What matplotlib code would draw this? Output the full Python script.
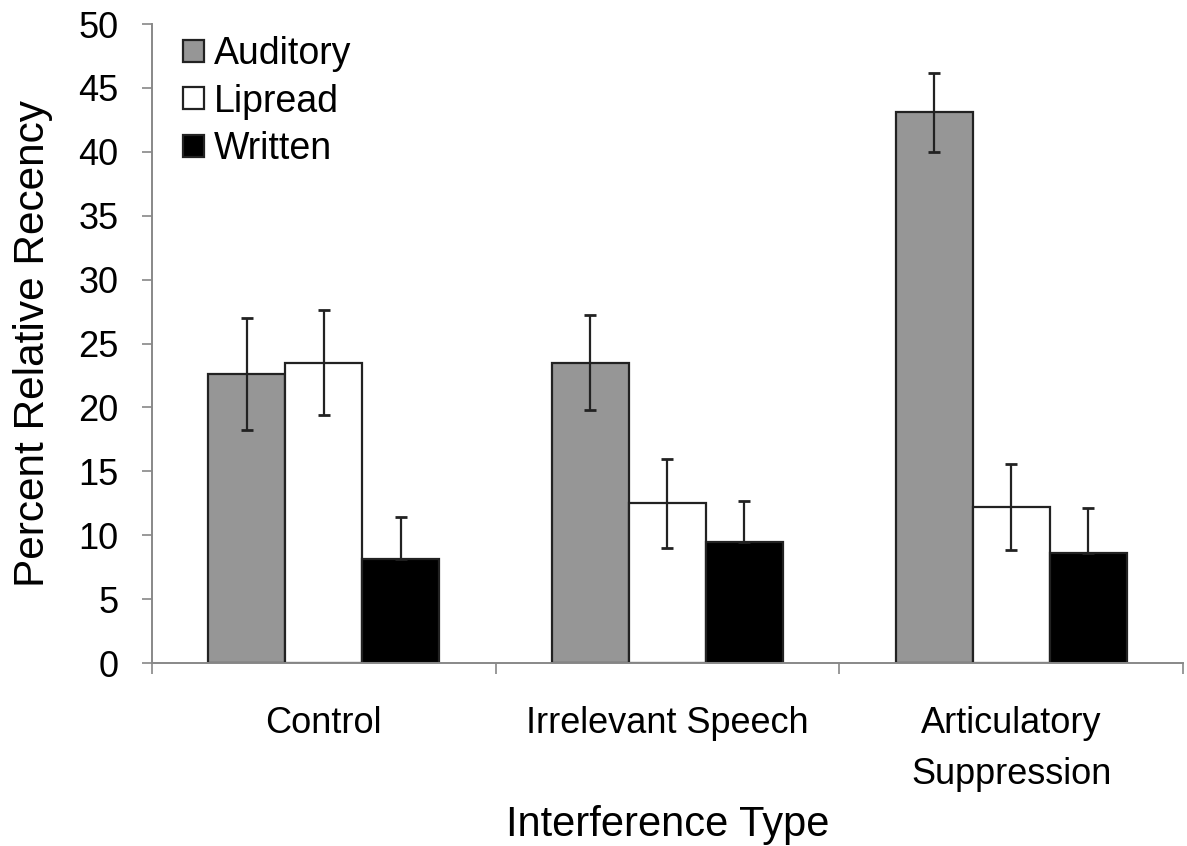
import numpy as np
import matplotlib.pyplot as plt

plt.rcParams['font.family'] = ['Liberation Sans', 'DejaVu Sans']

# recency data per interference condition
conditions = ['Control', 'Irrelevant Speech', 'Articulatory\nSuppression']
series = ['Auditory', 'Lipread', 'Written']
auditory = [22.6, 23.5, 43.1]
lipread = [23.5, 12.5, 12.2]
written = [8.1, 9.5, 8.6]
auditory_err = [4.4, 3.7, 3.1]
lipread_err = [4.1, 3.5, 3.35]
written_err = [3.3, 3.2, 3.5]

means = [auditory, lipread, written]
errs = [auditory_err, lipread_err, written_err]
fills = ['#969696', 'white', 'black']

fig = plt.figure(figsize=(11.87, 8.46), dpi=100)
ax = fig.add_axes([0.128, 0.2163, 0.8686, 0.7553])

x = np.arange(len(conditions))
w = 0.224
for i, (m, e, c) in enumerate(zip(means, errs, fills)):
    pos = x + (i - 1) * w
    ax.bar(pos, m, width=w, color=c, edgecolor='#222222', linewidth=1.6,
           label=series[i], zorder=2)
    if i == 2:
        # written bars are black: only the upper half of the bar is visible
        ax.errorbar(pos, m, yerr=[np.zeros(3), e], fmt='none', ecolor='#222222',
                    elinewidth=1.6, capsize=4, capthick=2, zorder=3)
    else:
        ax.errorbar(pos, m, yerr=e, fmt='none', ecolor='#222222',
                    elinewidth=1.6, capsize=4, capthick=2, zorder=3)

ax.set_xlim(-0.5, 2.5)
ax.set_ylim(0, 50)
ax.set_yticks(np.arange(0, 51, 5))

# boundaries get the tick marks, centres carry the labels
ax.set_xticks([-0.5, 0.5, 1.5, 2.5])
ax.set_xticklabels([])
ax.set_xticks(x, minor=True)
ax.set_xticklabels(conditions, minor=True, fontsize=26, va='top',
                   linespacing=1.6)
ax.tick_params(axis='x', which='minor', length=0, pad=31)
ax.tick_params(axis='x', which='major', length=8, color='#888888', width=1.2)
ax.tick_params(axis='y', length=7, color='#888888', width=1.2, labelsize=26,
               pad=17)

for side in ['top', 'right']:
    ax.spines[side].set_visible(False)
for side in ['left', 'bottom']:
    ax.spines[side].set_color('#888888')
    ax.spines[side].set_linewidth(1.4)

ax.set_ylabel('Percent Relative Recency', fontsize=30.5, labelpad=18)
ax.set_xlabel('Interference Type', fontsize=30, labelpad=9)

ax.legend(loc='upper left', bbox_to_anchor=(0.016, 1.004), frameon=False,
          fontsize=27, handlelength=0.56, handleheight=0.53,
          handletextpad=0.25, labelspacing=0.3, borderaxespad=0)

fig.savefig('out.png', dpi=100)
